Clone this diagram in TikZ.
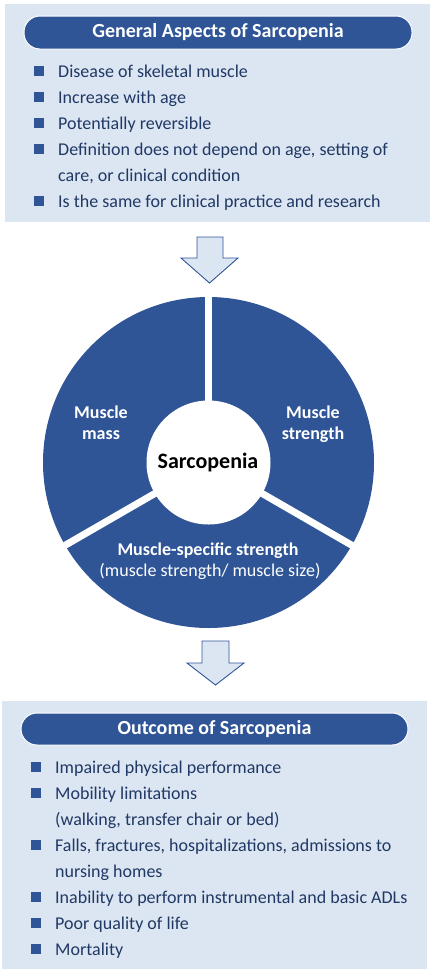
\documentclass[tikz,border=0pt]{standalone}
\usepackage{fontspec}
\setmainfont{Carlito}
\definecolor{dk}{HTML}{2F5597}
\definecolor{lt}{HTML}{DCE6F3}
\definecolor{txt}{HTML}{203864}
\begin{document}
\begin{tikzpicture}[x=1pt,y=-1pt,
  panel/.style={fill=lt,draw=none,inner sep=0pt},
  pill/.style={fill=dk,draw=white,line width=1pt,rounded corners=16pt,text=white,
    font=\fontsize{20}{22}\selectfont\bfseries,inner sep=0pt},
  bul/.style={fill=dk,minimum size=9.5pt,inner sep=0pt},
  item/.style={anchor=base west,text=txt,font=\fontsize{18}{26}\selectfont,inner sep=0pt,align=left},
  seglab/.style={anchor=base,text=white,font=\fontsize{18}{21}\selectfont\bfseries,inner sep=0pt,align=center},
  blockarrow/.style={fill=lt,draw=dk,line width=0.9pt,line join=miter}
]
\useasboundingbox (0,0) rectangle (433,978);

% ---------- top panel ----------
\node[panel,minimum width=425pt,minimum height=218pt] (toppanel) at (217.5,113) {};
\node[pill,minimum width=388pt,minimum height=33pt] (toptitle) at (218,32.5) {General Aspects of Sarcopenia};
% y = baseline of first line / baseline of last line
\foreach \y/\ly/\t [count=\i] in {77/77/Disease of skeletal muscle,
  103/103/Increase with age,
  129/129/Potentially reversible,
  155/181/{Definition does not depend on age, setting of\\care, or clinical condition},
  207/207/Is the same for clinical practice and research}{
  \node[bul] (tb\i) at (39,\y-6) {};
  \node[item] (ti\i) at (58,\ly) {\t};
}

% ---------- arrow 1 ----------
\draw[blockarrow] (197,237) -- (223,237) -- (223,258) -- (238,258) -- (209.5,283)
  -- (181,258) -- (197,258) -- cycle;

% ---------- circle ----------
\coordinate (c) at (208.5,462.5);
\fill[dk] (c) circle[radius=165.5pt];
\foreach \a in {90,-30,210}{
  \draw[white,line width=7pt] (c) -- ++(\a:170pt);
}
\node[circle,fill=white,minimum size=124pt,inner sep=0pt] (sarc) at (c) {};
\node[anchor=base,font=\fontsize{22}{24}\selectfont\bfseries,inner sep=0pt] (sarctext) at (208,468) {Sarcopenia};
\node[seglab] (mass) at (101,439) {Muscle\\mass};
\node[seglab] (strength) at (313,439) {Muscle\\strength};
\node[seglab] (specific) at (208,555) {Muscle-specific strength};
\node[anchor=base,text=white,font=\fontsize{18}{21}\selectfont,inner sep=0pt] (ratio) at (210,576) {(muscle strength/ muscle size)};

% ---------- arrow 2 ----------
\draw[blockarrow] (202,641) -- (229,641) -- (229,663) -- (244,663) -- (215.5,685)
  -- (187,663) -- (202,663) -- cycle;

% ---------- bottom panel ----------
\node[panel,minimum width=425pt,minimum height=268pt] (botpanel) at (214.5,835) {};
\node[pill,minimum width=387pt,minimum height=32pt] (bottitle) at (214.5,729) {Outcome of Sarcopenia};
\foreach \y/\ly/\t [count=\i] in {773/773/Impaired physical performance,
  799/825/{Mobility limitations\\(walking, transfer chair or bed)},
  851/877/{Falls, fractures, hospitalizations, admissions to\\nursing homes},
  903/903/Inability to perform instrumental and basic ADLs,
  929/929/Poor quality of life,
  955/955/Mortality}{
  \node[bul] (bb\i) at (36,\y-6) {};
  \node[item] (bi\i) at (55,\ly) {\t};
}
\end{tikzpicture}
\end{document}
